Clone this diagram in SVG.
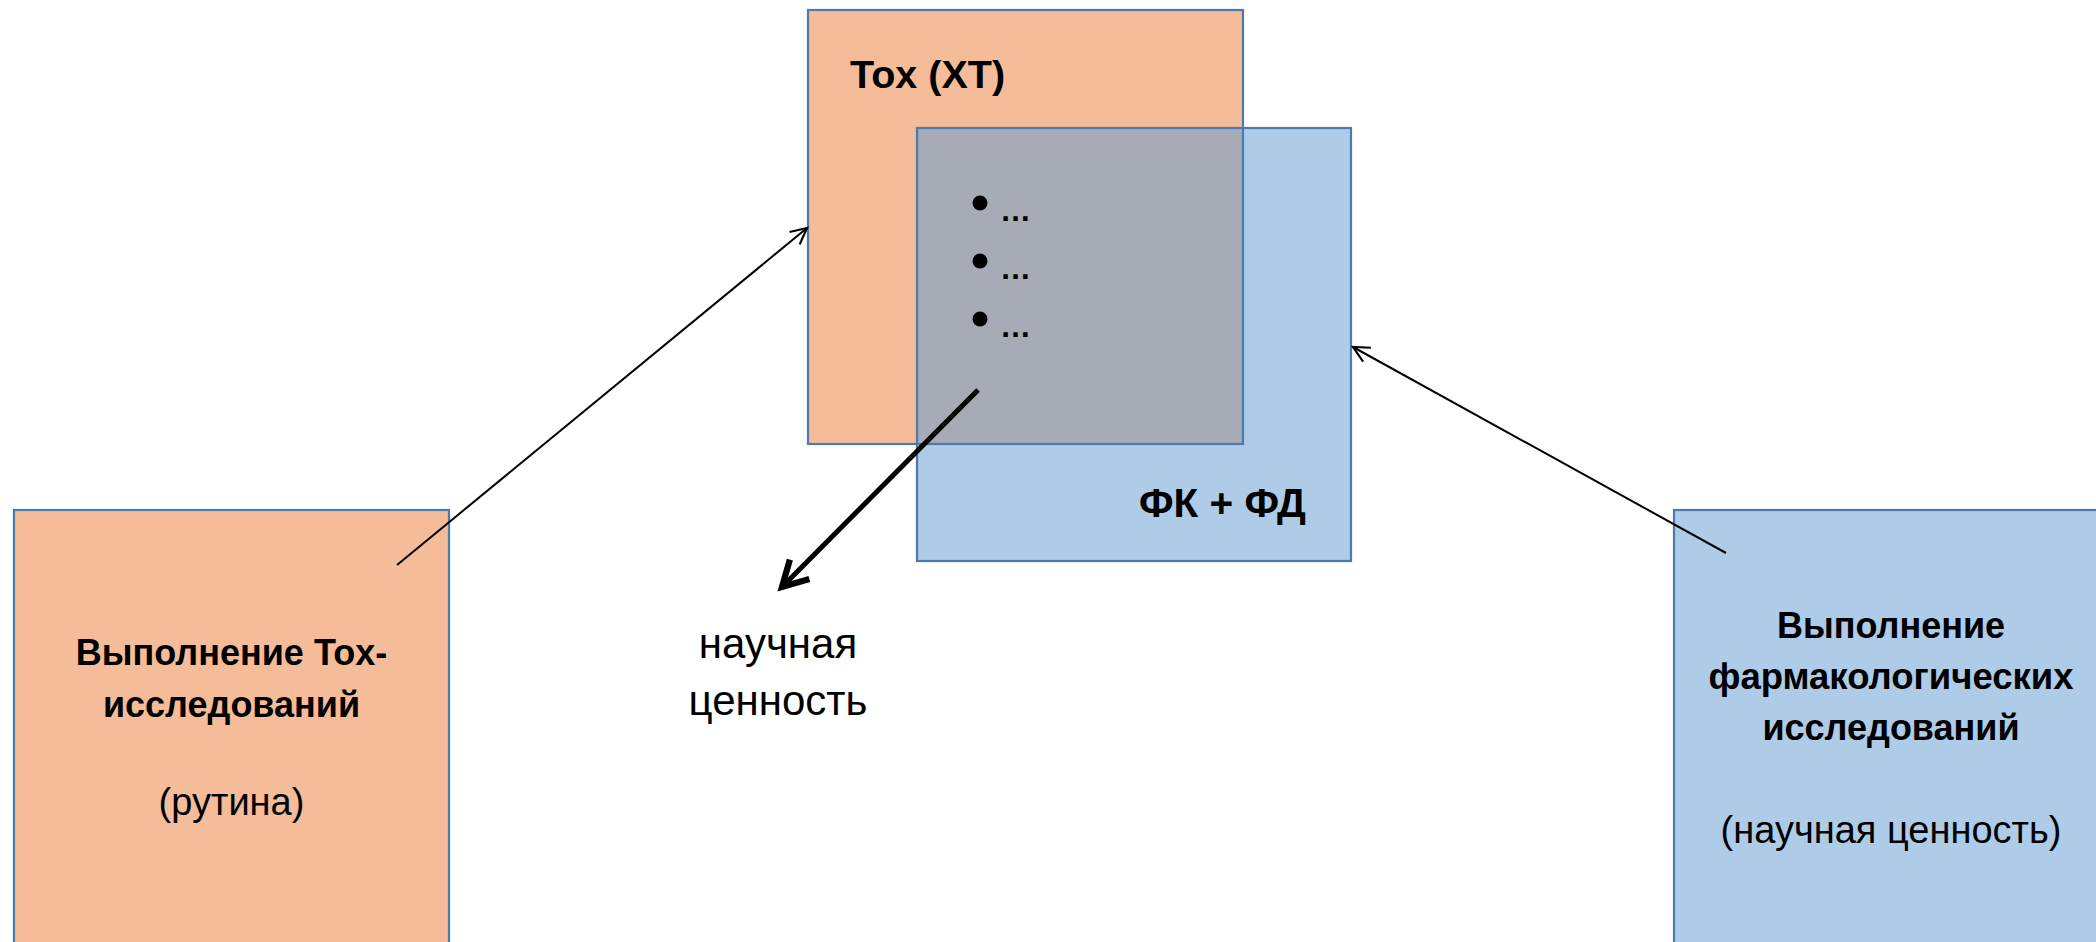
<svg xmlns="http://www.w3.org/2000/svg" width="2096" height="942" viewBox="0 0 2096 942">
<style>
.orange{fill:#F4BC98}
.blue{fill:#AECBE8}
.gray{fill:#A7ABB5}
.border{fill:none;stroke:#4A7AB0;stroke-width:2.2}
.b{font-family:"Liberation Sans",Arial,sans-serif;font-weight:bold;fill:#000}
.r{font-family:"Liberation Sans",Arial,sans-serif;fill:#000}
.thin{stroke:#000;stroke-width:2;fill:none}
.thick{stroke:#000;stroke-width:5;fill:none}
</style>
<defs>
<marker id="openArrow" markerUnits="userSpaceOnUse" markerWidth="30" markerHeight="30" refX="20" refY="10" orient="auto" viewBox="0 0 30 20">
<path d="M4,2 L20,10 L4,18" fill="none" stroke="#000" stroke-width="2.2"/>
</marker>
<marker id="thickArrow" markerUnits="userSpaceOnUse" markerWidth="40" markerHeight="40" refX="26" refY="14" orient="auto" viewBox="0 0 32 28">
<path d="M6,3 L26,14 L6,25" fill="none" stroke="#000" stroke-width="5" stroke-linejoin="miter"/>
</marker>
</defs>
<rect width="2096" height="942" fill="#fff"/>
<g id="tox-box">
<rect class="orange" x="808" y="10" width="435" height="434"/>
</g>
<g id="fkfd-box">
<rect class="blue" x="917" y="128" width="434" height="433"/>
</g>
<g id="overlap">
<rect class="gray" x="917" y="128" width="326" height="316"/>
<rect class="border" x="808" y="10" width="435" height="434"/>
<rect class="border" x="917" y="128" width="434" height="433"/>
<text class="b" x="850" y="88" font-size="39.5">Tox (XT)</text>
<circle cx="980" cy="203" r="7.5"/>
<circle cx="980" cy="261" r="7.5"/>
<circle cx="980" cy="319" r="7.5"/>
<text class="b" x="1000" y="221" font-size="31">…</text>
<text class="b" x="1000" y="279" font-size="31">…</text>
<text class="b" x="1000" y="337" font-size="31">…</text>
<text class="b" x="1139" y="517" font-size="40.5">ФК + ФД</text>
</g>
<g id="tox-study">
<rect class="orange" x="14" y="510" width="435" height="450"/>
<rect class="border" x="14" y="510" width="435" height="450"/>
<text class="b" x="231.5" y="665" font-size="36" text-anchor="middle">Выполнение Tox-</text>
<text class="b" x="231.5" y="717" font-size="36" text-anchor="middle">исследований</text>
<text class="r" x="231.5" y="815" font-size="38" text-anchor="middle">(рутина)</text>
</g>
<g id="pharm-study">
<rect class="blue" x="1674" y="510" width="440" height="450"/>
<rect class="border" x="1674" y="510" width="440" height="450"/>
<text class="b" x="1891" y="638" font-size="36" text-anchor="middle">Выполнение</text>
<text class="b" x="1891" y="689" font-size="36.5" text-anchor="middle">фармакологических</text>
<text class="b" x="1891" y="740" font-size="36" text-anchor="middle">исследований</text>
<text class="r" x="1891" y="843" font-size="38" text-anchor="middle">(научная ценность)</text>
</g>
<g id="value-label">
<text class="r" x="778" y="658" font-size="42" text-anchor="middle">научная</text>
<text class="r" x="778" y="715" font-size="42" text-anchor="middle">ценность</text>
</g>
<g id="connectors">
<line class="thin" x1="397" y1="565" x2="807" y2="228" marker-end="url(#openArrow)"/>
<line class="thin" x1="1726" y1="553" x2="1353" y2="347" marker-end="url(#openArrow)"/>
<line class="thick" x1="978" y1="390" x2="782" y2="587" marker-end="url(#thickArrow)"/>
</g>
</svg>
